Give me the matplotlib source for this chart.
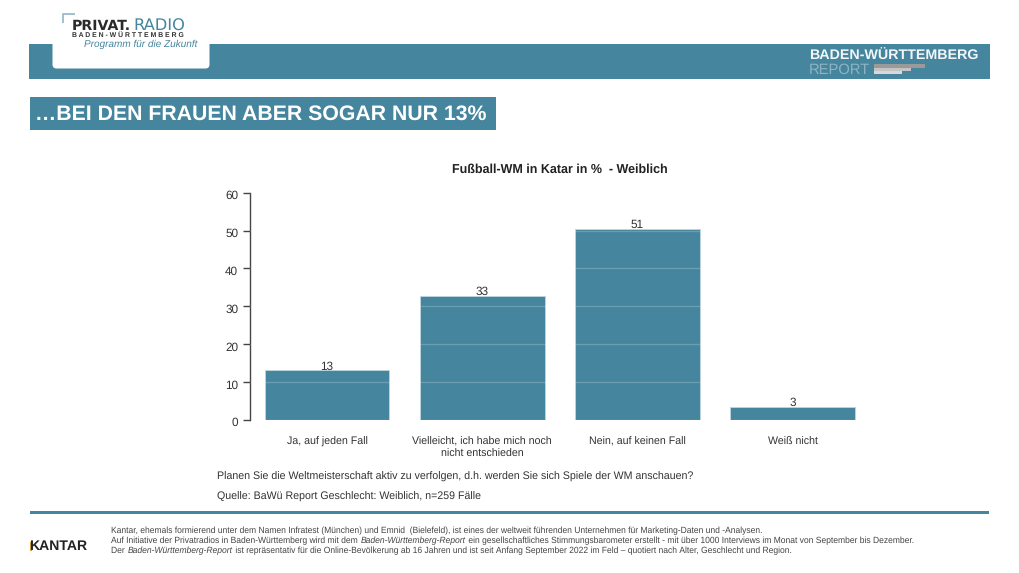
import matplotlib
matplotlib.use("Agg")
import matplotlib.pyplot as plt
from matplotlib.patches import FancyBboxPatch, Rectangle
from matplotlib.transforms import ScaledTranslation

plt.rcParams['font.family'] = ['Liberation Sans', 'DejaVu Sans']
plt.rcParams['text.hinting'] = 'no_hinting'
plt.rcParams['text.hinting_factor'] = 8

categories = ["Ja, auf jeden Fall", "Vielleicht, ich habe mich noch\nnicht entschieden",
              "Nein, auf keinen Fall", "Weiß nicht"]
heights = [13.1, 32.7, 50.5, 3.4]
value_labels = ["13", "33", "51", "3"]
y_ticks = [0, 10, 20, 30, 40, 50, 60]

TEAL = "#45859E"
W, H = 1019, 573
fig = plt.figure(figsize=(W/100, H/100), dpi=100, facecolor="white")

# page furniture in pixel coordinates
bg = fig.add_axes([0, 0, 1, 1])
bg.set_xlim(0, W); bg.set_ylim(H, 0); bg.axis("off")
bg.add_patch(Rectangle((29, 44), 961, 35, fc=TEAL, ec="none"))
bg.add_patch(FancyBboxPatch((52.5, 36), 157, 32.5, boxstyle="round,pad=0,rounding_size=4",
                            fc="white", ec="none"))
# logo
bg.plot([63.5, 63.5, 75], [23, 13.5, 13.5], color="#8FB8C8", lw=1.2, solid_capstyle="butt")
bg.text(72, 26, "PRIVAT.", fontsize=10.2, fontweight="bold", family="DejaVu Sans", color="#2B2B2B", va="center", ha="left")
bg.text(133, 26, "RADIO", fontsize=11.7, family="DejaVu Sans", color=TEAL, va="center", ha="left")
bg.text(72, 35.7, "B A D E N - W Ü R T T E M B E R G", fontsize=4.91, fontweight="bold",
        color="#333333", va="center", ha="left")
bg.text(84, 44.5, "Programm für die Zukunft", fontsize=7.2, style="italic", color=TEAL, va="center", ha="left")
# right header
bg.text(809, 56.5, "BADEN-WÜRTTEMBERG", fontsize=10.25, fontweight="bold", color="#F2F6F8", va="center", ha="left")
bg.text(809, 69.5, "REPORT", fontsize=10.6, color="#8DB4C4", va="center", ha="left")
bg.add_patch(Rectangle((874, 63.7), 51, 4, fc="#9A9A9A", ec="none"))
bg.add_patch(Rectangle((874, 67.7), 36.7, 3, fc="#C4C4C4", ec="none"))
bg.add_patch(Rectangle((874, 70.7), 27.7, 3.3, fc="#D8D8D8", ec="none"))
# title band
bg.add_patch(Rectangle((30, 97), 466, 33, fc=TEAL, ec="none"))
bg.text(35, 114, "…BEI DEN FRAUEN ABER SOGAR NUR 13%", fontsize=15.29, fontweight="bold",
        color="white", va="center", ha="left")
# rule and footer
bg.add_patch(Rectangle((30, 510.5), 959, 3, fc=TEAL, ec="none"))
bg.text(217, 477.3, "Planen Sie die Weltmeisterschaft aktiv zu verfolgen, d.h. werden Sie sich Spiele der WM anschauen?",
        fontsize=7.62, color="#333333", va="center", ha="left")
bg.text(217, 496.5, "Quelle: BaWü Report Geschlecht: Weiblich, n=259 Fälle",
        fontsize=7.62, color="#333333", va="center", ha="left")
bg.text(29.2, 546, "KANTAR", fontsize=10.1, fontweight="bold", color="#222222", va="center", ha="left")
bg.add_patch(Rectangle((30.2, 541.5), 1.6, 9, fc="#D9A93A", ec="none"))
foot = "#444444"
fs = 6.15
bg.text(111.5, 530.5, "Kantar, ehemals formierend unter dem Namen Infratest (München) und Emnid  (Bielefeld), ist eines der weltweit führenden Unternehmen für Marketing-Daten und -Analysen.",
        fontsize=fs, color=foot, va="center", ha="left")
rend = fig.canvas.get_renderer()
for y, parts in [(540.5, [("Auf Initiative der Privatradios in Baden-Württemberg wird mit dem ", False),
                        ("Baden-Württemberg-Report", True),
                        (" ein gesellschaftliches Stimmungsbarometer erstellt - mit über 1000 Interviews im Monat von September bis Dezember.", False)]),
                 (550.5, [("Der ", False), ("Baden-Württemberg-Report", True),
                        (" ist repräsentativ für die Online-Bevölkerung ab 16 Jahren und ist seit Anfang September 2022 im Feld – quotiert nach Alter, Geschlecht und Region.", False)])]:
    x = 111.5
    for s, it in parts:
        tt = bg.text(x, y, s.replace(" ", "\u00a0"), fontsize=fs, color=foot, va="center", ha="left",
                     style="italic" if it else "normal")
        x += tt.get_window_extent(rend).width

# chart: y=0 at px 420, y=60 at px 192.7; spine at px 250
L, R, T, B = 250, 870, 192.7, 420
ax = fig.add_axes([L/W, 1-B/H, (R-L)/W, (B-T)/H], facecolor="none")
ax.set_ylim(0, 60)
ax.set_xlim((L-327)/155.2, (R-327)/155.2)
pos = list(range(len(categories)))
ax.bar(pos, heights, width=0.803, color=TEAL, edgecolor="#BFD6DF", linewidth=0.6, zorder=2)
ax.yaxis.grid(True, color="white", alpha=0.2, lw=1.0, zorder=3)
ax.set_axisbelow(False)
ax.xaxis.grid(False)
for p, h, lab in zip(pos, heights, value_labels):
    ax.text(p, h - 0.45, lab, ha="center", va="bottom", fontsize=8.5, color="#333333", zorder=4)
for s in ["top", "right", "bottom"]:
    ax.spines[s].set_visible(False)
ax.spines["left"].set_color("#444444")
ax.spines["left"].set_linewidth(1.0)
ax.set_yticks(y_ticks)
ax.tick_params(axis="y", length=5, width=1, color="#444444", labelcolor="#333333", labelsize=8.5, pad=3.5)
shift = ScaledTranslation(0, -2/100, fig.dpi_scale_trans)
for lab in ax.get_yticklabels():
    lab.set_transform(lab.get_transform() + shift)
ax.set_xticks(pos)
ax.set_xticklabels(categories, fontsize=7.63, color="#333333", linespacing=1.25)
ax.tick_params(axis="x", length=0, pad=12.2)
fig.text(560/W, 1-169.5/H, "Fußball-WM in Katar in %  - Weiblich", fontsize=9, fontweight="bold",
         color="#222222", ha="center", va="center")

fig.savefig("out.png", dpi=100, facecolor="white")
